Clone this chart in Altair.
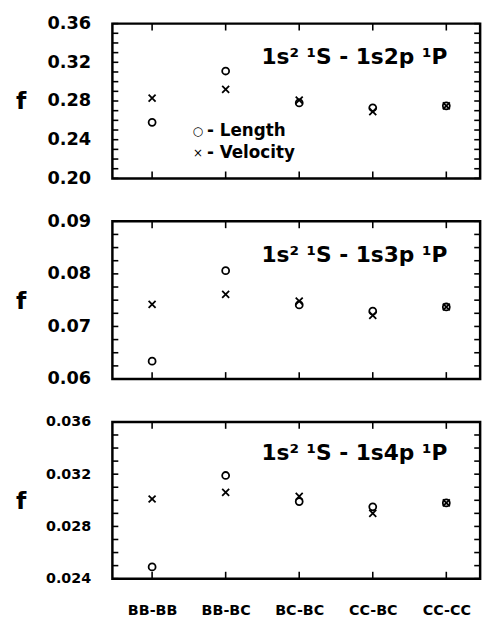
import altair as alt
import pandas as pd

categories = ["BB-BB", "BB-BC", "BC-BC", "CC-BC", "CC-CC"]

length_2p = [0.258, 0.311, 0.278, 0.273, 0.275]
velocity_2p = [0.283, 0.292, 0.281, 0.269, 0.275]

length_3p = [0.0634, 0.0806, 0.0741, 0.0729, 0.0737]
velocity_3p = [0.0742, 0.0761, 0.0748, 0.0721, 0.0737]

length_4p = [0.0249, 0.0319, 0.0299, 0.0295, 0.0298]
velocity_4p = [0.0301, 0.0306, 0.0303, 0.0290, 0.0298]

titles = ["1s² ¹S - 1s2p ¹P", "1s² ¹S - 1s3p ¹P", "1s² ¹S - 1s4p ¹P"]
legend_labels = ["- Length", "- Velocity"]
legend_symbols = ["○", "×"]

FONT = "DejaVu Sans"
W = 373
PAD_OUTER = 0.5
ALIGN = 0.54
CROSS = "M-1,-1L1,1M1,-1L-1,1"

# distance from first / last category to the plot edges (from the point scale)
STEP = W / (len(categories) - 1 + 2 * PAD_OUTER)
LEFT_GAP = 2 * PAD_OUTER * STEP * ALIGN
RIGHT_GAP = 2 * PAD_OUTER * STEP * (1 - ALIGN)
YTICK_LEN = 6
XTICK_LEN = 7
LEFT_TICK = f"M{-LEFT_GAP:.2f},0L{-LEFT_GAP + YTICK_LEN:.2f},0"
RIGHT_TICK = f"M{RIGHT_GAP:.2f},0L{RIGHT_GAP - YTICK_LEN:.2f},0"
TOP_TICK = f"M0,0L0,{XTICK_LEN}"
BOTTOM_TICK = f"M0,0L0,{-XTICK_LEN}"


def frange(lo, hi, step):
    n = int(round((hi - lo) / step))
    return [round(lo + i * step, 6) for i in range(n + 1)]


def panel(length, velocity, ymin, ymax, major, minor, fmt, label_size,
          title_text, title_y, height, show_x, legend_y=None):
    df = pd.DataFrame({
        "cat": categories * 2,
        "f": length + velocity,
        "kind": ["Length"] * 5 + ["Velocity"] * 5,
    })
    xscale = alt.Scale(type="point", domain=categories, paddingOuter=PAD_OUTER,
                       align=ALIGN)
    yscale = alt.Scale(domain=[ymin, ymax], zero=False, nice=False)
    if show_x:
        xaxis = alt.Axis(title=None, labelFont=FONT, labelFontWeight="bold",
                         labelFontSize=14.5, labelColor="black", ticks=False,
                         domain=False, grid=False, labelPadding=25, labelAngle=0)
    else:
        xaxis = None
    yaxis = alt.Axis(values=frange(ymin, ymax, major), format=fmt,
                     labelFont=FONT, labelFontWeight="bold",
                     labelFontSize=label_size, labelColor="black",
                     labelPadding=22, ticks=False, tickSize=0, domain=False,
                     grid=False, title="f", titleAngle=0, titleFont=FONT,
                     titleFontWeight="bold", titleFontSize=24, titleColor="black",
                     titleX=-93, titleY=height / 2 + 1, titleAlign="center",
                     titleBaseline="middle")
    X = lambda: alt.X("cat:N", scale=xscale, axis=xaxis)
    Y = lambda: alt.Y("f:Q", scale=yscale, axis=yaxis)

    pts = alt.Chart(df).mark_point(filled=False, color="black", opacity=1,
                                   strokeWidth=1.8, size=50).encode(
        x=X(), y=Y(),
        shape=alt.Shape("kind:N", scale=alt.Scale(domain=["Length", "Velocity"],
                                                  range=["circle", CROSS]),
                        legend=None),
    )

    # frame ticks, drawn as stub symbols through the chart's scales
    yt = frange(ymin, ymax, minor)
    tick_df = pd.DataFrame({
        "cat": ["BB-BB"] * len(yt) + ["CC-CC"] * len(yt)
               + categories + categories,
        "f": yt + yt + [ymax] * 5 + [ymin] * 5,
        "side": ["L"] * len(yt) + ["R"] * len(yt) + ["T"] * 5 + ["B"] * 5,
    })
    ticks = alt.Chart(tick_df).mark_point(filled=False, color="black", opacity=1,
                                          strokeWidth=1.6, size=4).encode(
        x=X(), y=Y(),
        shape=alt.Shape("side:N", scale=alt.Scale(
            domain=["L", "R", "T", "B"],
            range=[LEFT_TICK, RIGHT_TICK, TOP_TICK, BOTTOM_TICK]), legend=None),
    )

    tdf = pd.DataFrame({"cat": ["CC-CC"], "f": [title_y], "t": [title_text]})
    ttl = alt.Chart(tdf).mark_text(align="right", baseline="middle", font=FONT,
                                   fontSize=22, fontWeight="bold", color="black",
                                   dx=1).encode(x=X(), y=Y(), text="t:N")
    layers = [ticks, pts, ttl]
    if legend_y is not None:
        ldf = pd.DataFrame({"cat": ["BB-BC", "BB-BC"], "f": legend_y,
                            "sym": legend_symbols, "lab": legend_labels})
        lsym = alt.Chart(ldf).mark_text(align="center", baseline="middle",
                                        font=FONT, fontSize=12, color="black",
                                        dx=-28).encode(x=X(), y=Y(), text="sym:N")
        llab = alt.Chart(ldf).mark_text(align="left", baseline="middle",
                                        font=FONT, fontSize=17, fontWeight="bold",
                                        color="black", dx=-19).encode(
            x=X(), y=Y(), text="lab:N")
        layers += [lsym, llab]
    return alt.layer(*layers).resolve_scale(shape="independent").properties(
        width=W, height=height)


top = panel(length_2p, velocity_2p, 0.20, 0.36, 0.04, 0.01, ".2f", 18,
            titles[0], 0.325, 157, False, legend_y=[0.249, 0.226])
mid = panel(length_3p, velocity_3p, 0.06, 0.09, 0.01, 0.0025, ".2f", 18,
            titles[1], 0.0836, 160, False)
bot = panel(length_4p, velocity_4p, 0.024, 0.036, 0.004, 0.001, ".3f", 14.5,
            titles[2], 0.0336, 159, True)

chart = alt.vconcat(top, mid, bot, spacing=43.5, bounds="flush").properties(
    padding={"left": 14, "top": 8.5, "right": 5, "bottom": 0}
).configure_view(stroke="black", strokeWidth=2.5)

chart.save("out.html", embed_options={"renderer": "svg", "actions": False})
